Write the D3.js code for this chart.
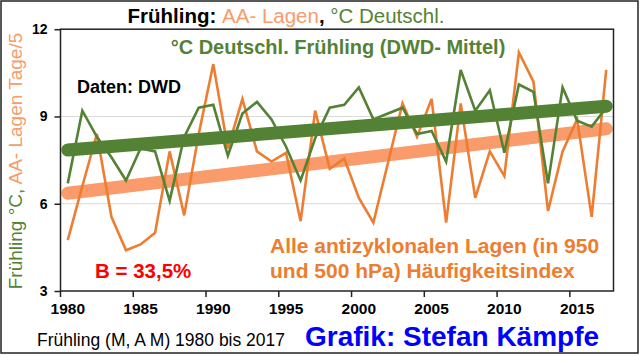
<!DOCTYPE html>
<html><head><meta charset="utf-8">
<script src="https://cdn.jsdelivr.net/npm/d3@7"></script>
<style>body{margin:0;background:#fff}svg{display:block;font-family:"Liberation Sans",Arial,sans-serif}</style>
</head><body><svg id="c" width="640" height="356"></svg>
<script>
const years = d3.range(1980, 2018);
const tempDE = [6.7,9.2,8.3,7.6,6.8,7.9,7.8,6.1,8.3,9.3,9.4,7.65,9.1,9.5,8.9,7.96,6.8,8.25,9.3,9.4,10.0,8.9,9.1,9.3,8.4,8.5,7.45,10.6,9.2,9.9,7.75,10.1,9.85,6.7,10.0,8.85,8.65,9.3];
const aaIndex = [4.75,6.6,8.4,5.55,4.4,4.6,5.0,7.8,5.6,8.4,10.8,7.9,9.6,7.8,7.45,7.75,5.4,9.2,7.2,7.55,6.2,5.35,7.4,9.45,8.3,9.6,5.35,9.45,6.2,7.8,6.95,11.2,10.2,5.75,7.8,8.9,5.55,10.6];
const yTicks = [3,6,9,12];
const xTicks = [1980,1985,1990,1995,2000,2005,2010,2015];

const GREEN="#548235", ORANGE="#ed7d31", SALMON="#f99b6a";
const svg = d3.select("#c");
const L=60.5,R=613.5,T=29.2,B=291;
const x = d3.scaleBand().domain(years).range([L,R]).padding(0);
const bw = x.bandwidth();
const cx = d => x(d)+bw/2;
const y = d3.scaleLinear().domain([3,12]).range([B,T]);

svg.append("rect").attr("x",1).attr("y",1).attr("width",637).attr("height",352).attr("fill","none").attr("stroke","#222").attr("stroke-width",1.5);

svg.append("g").selectAll("line").data([6,9]).join("line")
  .attr("x1",L).attr("x2",R).attr("y1",d=>y(d)).attr("y2",d=>y(d)).attr("stroke","#d9d9d9").attr("stroke-width",1);

function trend(vals){
  const n=vals.length, mx=d3.mean(years), my=d3.mean(vals);
  let sxy=0,sxx=0; years.forEach((t,i)=>{sxy+=(t-mx)*(vals[i]-my);sxx+=(t-mx)*(t-mx);});
  const b=sxy/sxx, a=my-b*mx;
  return [years[0],years[n-1]].map(t=>[t,a+b*t]);
}
const line = d3.line().x(d=>cx(d[0])).y(d=>y(d[1]));
const ser = v => years.map((t,i)=>[t,v[i]]);

svg.append("path").attr("d",line(trend(aaIndex))).attr("stroke",SALMON).attr("stroke-width",13).attr("stroke-linecap","round").attr("fill","none");
svg.append("path").attr("d",line(ser(aaIndex))).attr("stroke",ORANGE).attr("stroke-width",2.6).attr("fill","none");
svg.append("path").attr("d",line(trend(tempDE))).attr("stroke",GREEN).attr("stroke-width",13).attr("stroke-linecap","round").attr("fill","none");
svg.append("path").attr("d",line(ser(tempDE))).attr("stroke",GREEN).attr("stroke-width",2.6).attr("fill","none");

svg.append("rect").attr("x",L).attr("y",T).attr("width",R-L).attr("height",B-T).attr("fill","none").attr("stroke","#222").attr("stroke-width",1.5);

const ya = svg.append("g").attr("transform",`translate(${L},0)`).call(d3.axisLeft(y).tickValues(yTicks).tickSize(6).tickFormat(d3.format("d")));
ya.select(".domain").remove();
ya.selectAll("line").attr("stroke","#222").attr("stroke-width",1.5);
ya.selectAll("text").attr("font-size",14).attr("font-weight","bold").attr("fill","#000").attr("x",-13).attr("font-family","Liberation Sans, Arial, sans-serif");

const xa = svg.append("g").attr("transform",`translate(0,${B})`).call(d3.axisBottom(x).tickValues(xTicks).tickSize(6));
xa.select(".domain").remove();
xa.selectAll("line").attr("stroke","#222").attr("stroke-width",1.5).attr("transform",`translate(${-bw/2},0)`);
xa.selectAll("text").attr("font-size",15.5).attr("font-weight","bold").attr("fill","#000").attr("y",12).attr("font-family","Liberation Sans, Arial, sans-serif");

const t = svg.append("text").attr("x",286).attr("y",23).attr("text-anchor","middle").attr("font-size",20.5);
t.append("tspan").attr("fill","#000").attr("font-weight","bold").text("Frühling: ");
t.append("tspan").attr("fill",SALMON).text("AA- Lagen");
t.append("tspan").attr("fill","#000").attr("font-weight","bold").text(", ");
t.append("tspan").attr("fill",GREEN).text("°C Deutschl.");

const yt = svg.append("text").attr("transform","translate(22,161) rotate(-90)").attr("text-anchor","middle").attr("font-size",19);
yt.append("tspan").attr("fill",GREEN).text("Frühling °C, ");
yt.append("tspan").attr("fill",SALMON).text("AA- Lagen Tage/5");

svg.append("text").attr("x",338).attr("y",54).attr("text-anchor","middle").attr("font-size",20).attr("font-weight","bold").attr("fill",GREEN).text("°C Deutschl. Frühling (DWD- Mittel)");
svg.append("text").attr("x",77).attr("y",93).attr("font-size",18).attr("font-weight","bold").attr("fill","#000").text("Daten: DWD");
svg.append("text").attr("x",95).attr("y",278).attr("font-size",20.5).attr("font-weight","bold").attr("fill","#ff0000").text("B = 33,5%");
svg.append("text").attr("x",270).attr("y",253).attr("font-size",21).attr("font-weight","bold").attr("fill",ORANGE).text("Alle antizyklonalen Lagen (in 950");
svg.append("text").attr("x",270).attr("y",278).attr("font-size",21).attr("font-weight","bold").attr("fill",ORANGE).text("und 500 hPa) Häufigkeitsindex");
svg.append("text").attr("x",37).attr("y",346).attr("font-size",17.5).attr("fill","#000").text("Frühling (M, A M) 1980 bis 2017");
svg.append("text").attr("x",305).attr("y",346).attr("font-size",28).attr("font-weight","bold").attr("fill","#0000ff").text("Grafik: Stefan Kämpfe");
</script></body></html>
